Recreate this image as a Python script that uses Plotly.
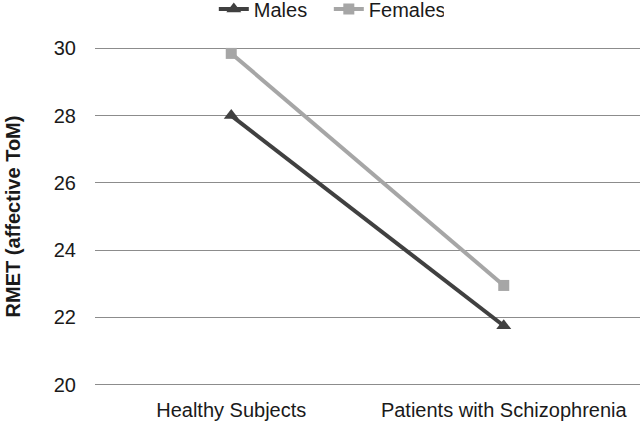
import plotly.graph_objects as go

categories = ["Healthy Subjects", "Patients with Schizophrenia"]
males = [28.0, 21.75]
females = [29.85, 22.95]
y_ticks = [20, 22, 24, 26, 28, 30]

fig = go.Figure()
fig.add_trace(go.Scatter(x=categories, y=males, name="Males", mode="lines+markers",
                         line=dict(color="#404040", width=4),
                         marker=dict(symbol="triangle-up", size=13, color="#404040")))
fig.add_trace(go.Scatter(x=categories, y=females, name="Females", mode="lines+markers",
                         line=dict(color="#a6a6a6", width=4),
                         marker=dict(symbol="square", size=11, color="#a6a6a6")))

fig.update_layout(
    width=640, height=423,
    margin=dict(l=95, r=0, t=45, b=35, autoexpand=False),
    paper_bgcolor="white", plot_bgcolor="white",
    font=dict(family="Liberation Sans, Arial", size=20, color="#1a1a1a"),
    legend=dict(orientation="h", x=0.218, xanchor="left", y=1.162, yanchor="top",
                font=dict(size=20), tracegroupgap=0, bgcolor="rgba(0,0,0,0)",
                entrywidth=70, entrywidthmode="pixels"),
    xaxis=dict(showgrid=False, showline=False, ticks="", range=[-0.5, 1.5],
               ticklabelstandoff=8),
    yaxis=dict(range=[19.9, 30.1], tickvals=y_ticks, showgrid=True, gridcolor="#8c8c8c",
               gridwidth=1, zeroline=False, showline=False, ticklabelstandoff=18,
               title=dict(text="<b>RMET (affective ToM)</b>", font=dict(size=20), standoff=27)),
)
fig.write_html("out.html", config={"displayModeBar": False},
               post_script="document.body.style.margin='0';")
